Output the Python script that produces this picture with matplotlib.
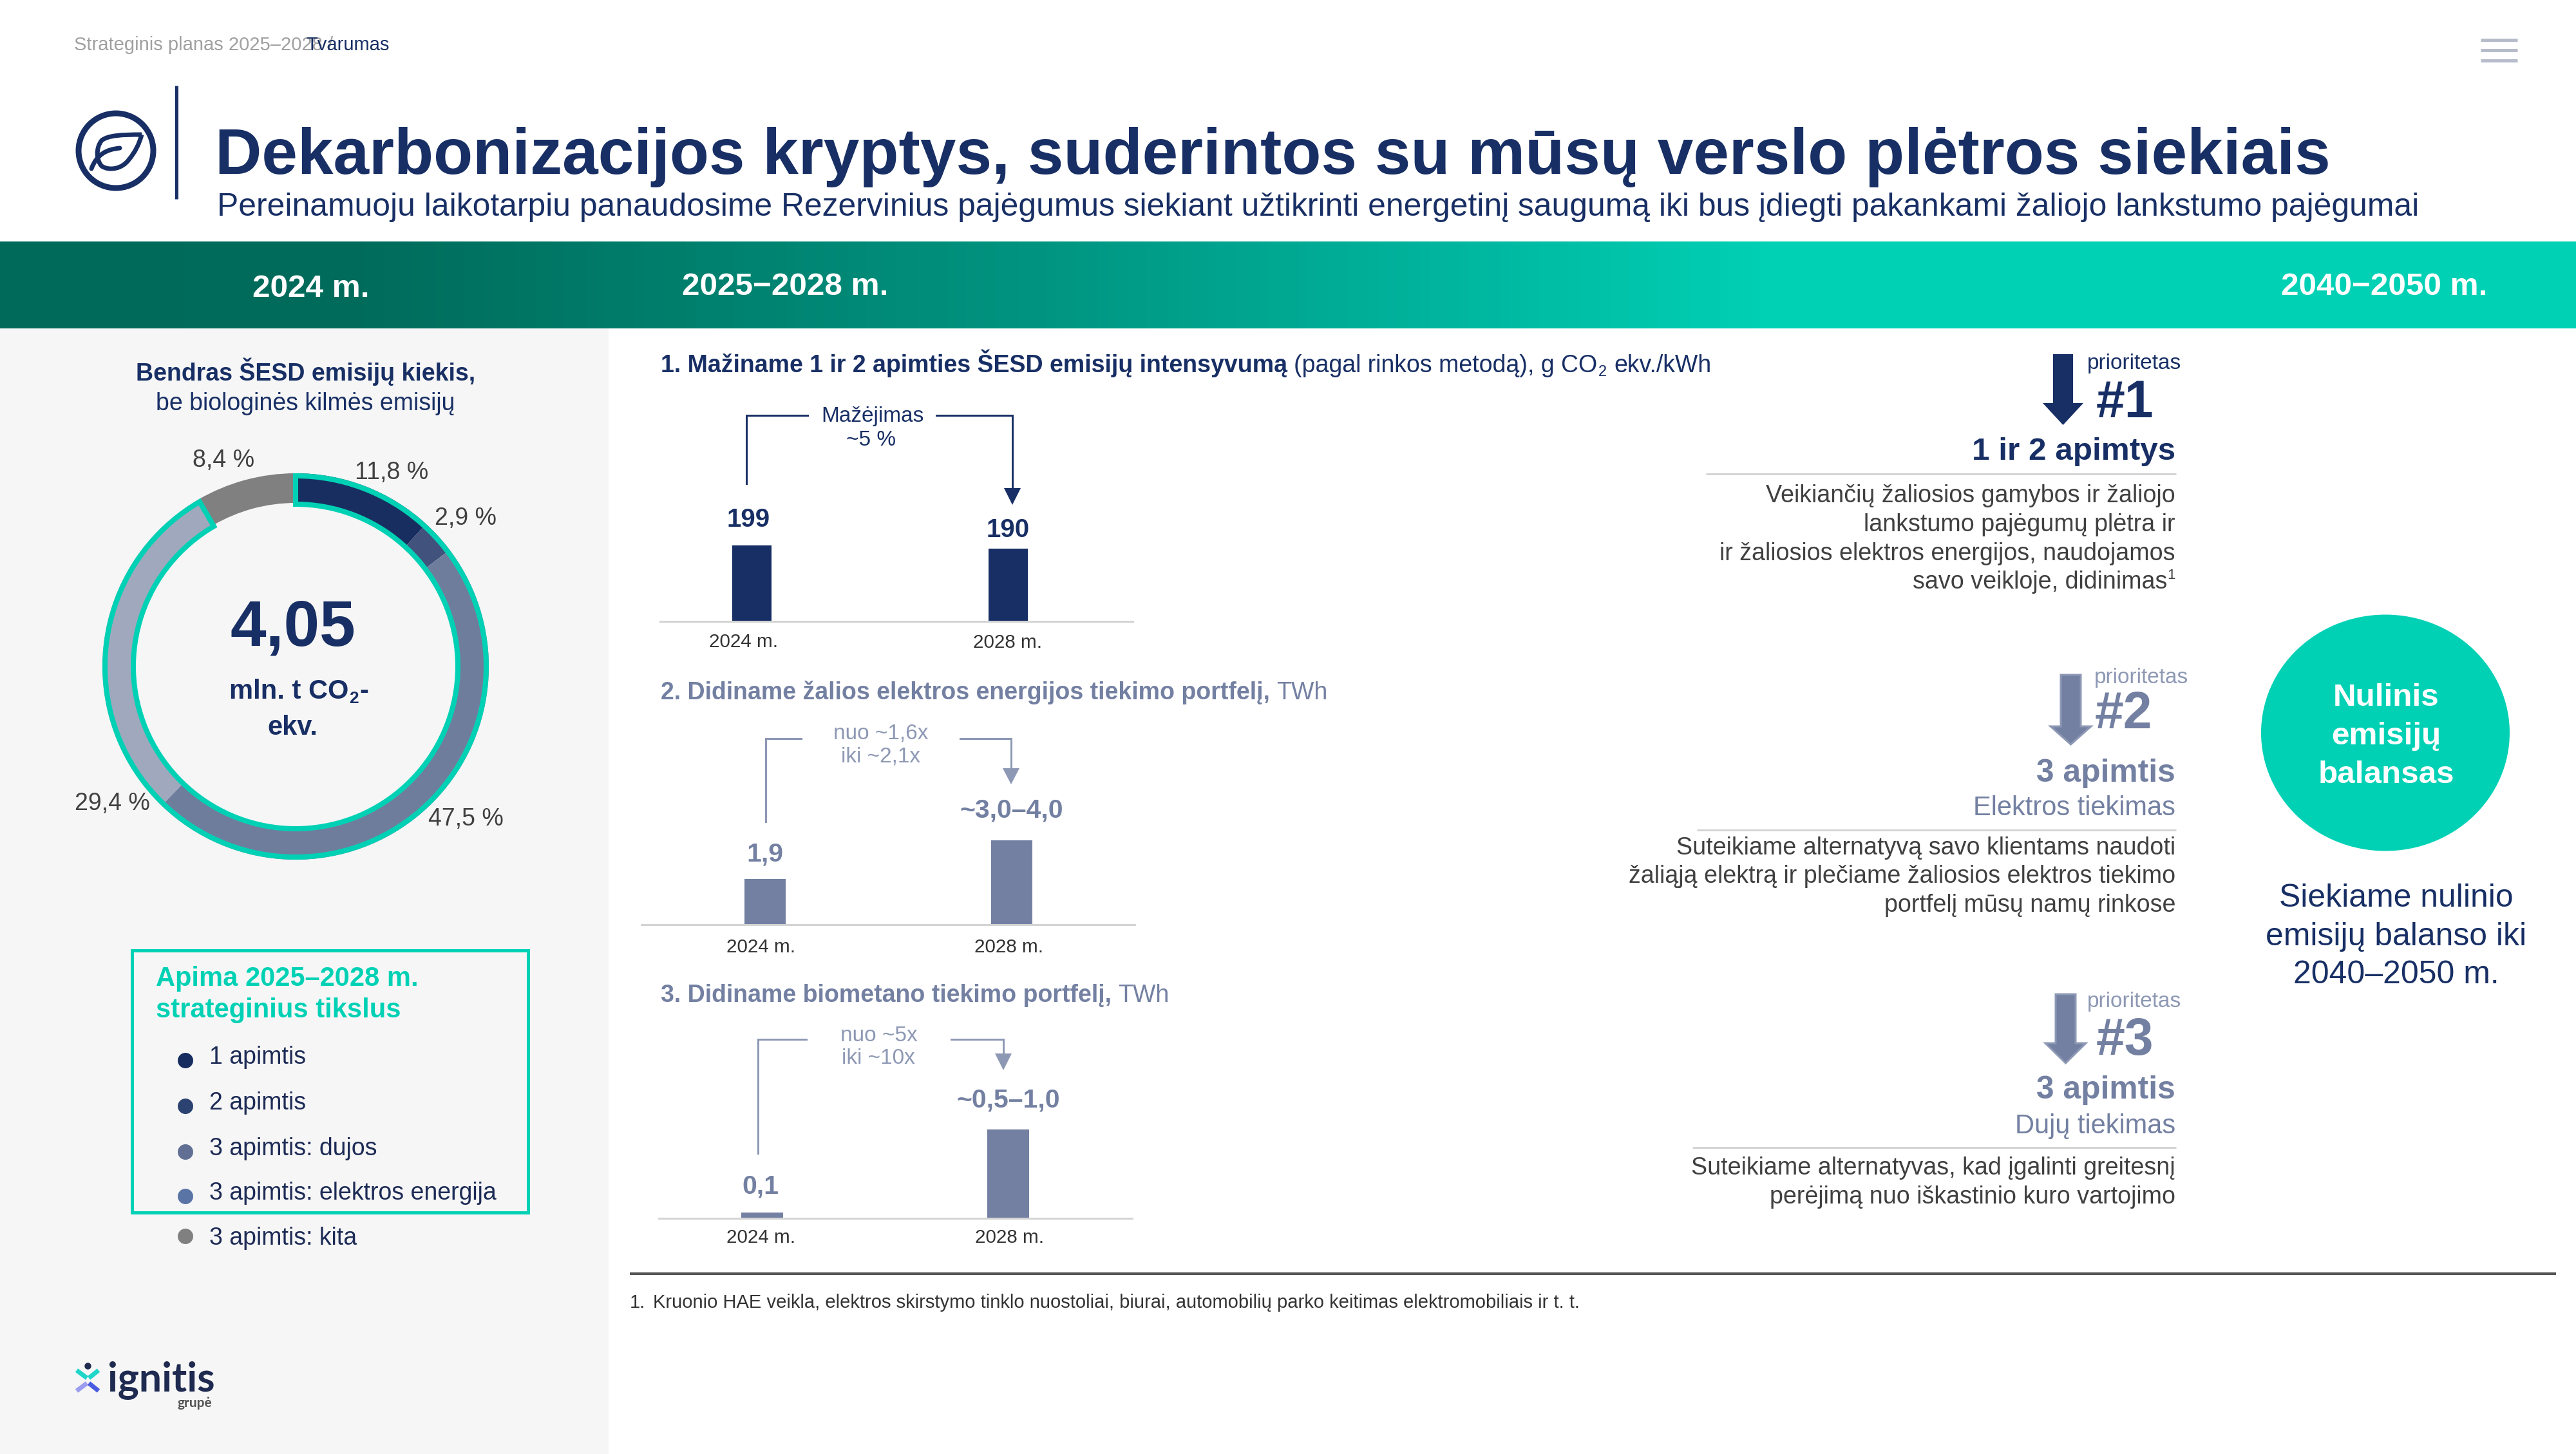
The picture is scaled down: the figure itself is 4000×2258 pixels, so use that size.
##### Imports #####
import matplotlib
matplotlib.use('Agg')
import matplotlib.pyplot as plt
import numpy as np
from matplotlib.colors import LinearSegmentedColormap
from matplotlib.patches import Circle, Ellipse, PathPatch, Polygon, Rectangle, Wedge
from matplotlib.path import Path

plt.rcParams['font.family'] = ['Liberation Sans', 'DejaVu Sans']

###### DATA ######
# donut, clockwise from 12 o'clock
donut_values = [11.8, 2.9, 47.5, 29.4, 8.4]
donut_labels = ['11,8 %', '2,9 %', '47,5 %', '29,4 %', '8,4 %']
donut_colors = ['#182e60', '#41527c', '#6f7d9d', '#a0a8bd', '#808080']
donut_total = '4,05'

legend_labels = ['1 apimtis', '2 apimtis', '3 apimtis: dujos',
                 '3 apimtis: elektros energija', '3 apimtis: kita']
legend_colors = ['#182d5f', '#2c4271', '#626f95', '#5b74a6', '#808080']

# bar charts
years = ['2024 m.', '2028 m.']
intensity_values = [199, 190]
intensity_labels = ['199', '190']
power_values = [1.9, 3.5]     # 2028 bar is the middle of the 3,0-4,0 range
power_labels = ['1,9', '~3,0–4,0']
biomethane_values = [0.05, 0.75]   # the first is lower than its 0,1 label
biomethane_labels = ['0,1', '~0,5–1,0']

band_labels = ['2024 m.', '2025−2028 m.', '2040−2050 m.']

NAVY = '#182f65'
SLATE = '#7380a2'
SLATE_LIGHT = '#8d98b4'
TEAL = '#00d1b5'
DARK_TEXT = '#404040'
RULE = '#d4d4d4'

W, H = 4000, 2258

###### FIGURE ######
fig = plt.figure(figsize=(W / 100, H / 100), dpi=100, facecolor='white')
bg = fig.add_axes([0, 0, 1, 1], zorder=0)


def px(n):
    # pixels to points, linewidths and font sizes are given in points
    return n * 0.72


def txt(x, y, s, size, color=NAVY, weight='normal', ha='left', **kw):
    return bg.text(x, y, s, fontsize=size, color=color, fontweight=weight, ha=ha, va='baseline', **kw)


def runs(x, y, parts):
    # draw text pieces one after another, part = (text, size, weight, color, dy, gap after)
    renderer = fig.canvas.get_renderer()
    for s, size, weight, color, dy, gap in parts:
        t = txt(x, y + dy, s, size, color, weight)
        x += t.get_window_extent(renderer).width + gap
    return x


def hline(x0, x1, y, color, lw):
    bg.plot([x0, x1], [y, y], color=color, lw=px(lw), solid_capstyle='butt')


def sub_axes(x0, x1, y_top, y_bottom, zorder=2):
    ax = fig.add_axes([x0 / W, 1 - y_bottom / H, (x1 - x0) / W, (y_bottom - y_top) / H], zorder=zorder)
    ax.patch.set_alpha(0)
    return ax


# background blocks
band = LinearSegmentedColormap.from_list('band', [(0, '#006a5a'), (0.14, '#006c5c'), (0.40, '#009480'),
                                                  (0.60, '#00bda5'), (0.69, TEAL), (1, TEAL)])
bg.imshow(np.linspace(0, 1, 800).reshape(1, -1), cmap=band, aspect='auto', extent=(0, W, 510, 375), zorder=0)
bg.add_patch(Rectangle((0, 510), 945, H - 510, color='#f6f6f6', lw=0, zorder=0))

# top strip
txt(115, 78, 'Strateginis planas 2025–2028 /', 21, '#a0a0a0')
txt(475, 78, 'Tvarumas', 21, NAVY)
for y in [62, 78, 94]:
    hline(3852, 3909, y, '#b7bccb', 5)

# leaf icon
bg.add_patch(Ellipse((180, 234), 116, 116, fc='none', ec=NAVY, lw=px(9)))
leaf = Path([(220, 209), (190, 209), (168, 210), (158, 218), (148, 230), (150, 250), (158, 258),
             (170, 266), (190, 262), (200, 248), (210, 236), (216, 224), (220, 209)],
            [Path.MOVETO] + [Path.CURVE4] * 12)
bg.add_patch(PathPatch(leaf, fc='none', ec=NAVY, lw=px(7)))
stem = Path([(142, 262), (150, 240), (165, 232), (186, 230)], [Path.MOVETO] + [Path.CURVE4] * 3)
bg.add_patch(PathPatch(stem, fc='none', ec=NAVY, lw=px(7), capstyle='round'))
bg.plot([274, 274], [133, 309], color=NAVY, lw=px(5), solid_capstyle='butt')

# title
txt(334, 270, 'Dekarbonizacijos kryptys, suderintos su mūsų verslo plėtros siekiais', 72, NAVY, 'bold')
txt(337, 335, 'Pereinamuoju laikotarpiu panaudosime Rezervinius pajėgumus siekiant užtikrinti energetinį saugumą '
    'iki bus įdiegti pakankami žaliojo lankstumo pajėgumai', 35.8, NAVY)

# band labels
txt(483, 461, band_labels[0], 35.6, 'white', 'bold', ha='center')
txt(1059, 458, band_labels[1], 35.6, 'white', 'bold')
txt(3862, 458, band_labels[2], 35.6, 'white', 'bold', ha='right')

###### DONUT ######
txt(475, 591, 'Bendras ŠESD emisijų kiekis,', 27, NAVY, 'bold', ha='center')
txt(474, 637, 'be biologinės kilmės emisijų', 27, NAVY, ha='center')

cx, cy, r_out, r_in = 459, 1035, 300, 254
ax_d = sub_axes(cx - r_out, cx + r_out, cy - r_out, cy + r_out)
ax_d.pie(donut_values, colors=donut_colors, startangle=90, counterclock=False, radius=1,
         wedgeprops={'width': (r_out - r_in) / r_out, 'linewidth': 0})
ax_d.set_xlim(-1, 1)
ax_d.set_ylim(-1, 1)
# teal outline round everything except "kita"
covered = sum(donut_values[:-1]) / sum(donut_values) * 360
stroke = 8
ax_d.add_patch(Wedge((0, 0), 296 / r_out, 90 - covered, 90,
                     width=44 / r_out, fc='none', ec=TEAL, lw=px(stroke), joinstyle='miter', clip_on=False))

label_xy = [(608, 744), (723, 815), (723, 1282), (174, 1258), (347, 725)]
for (x, y), s in zip(label_xy, donut_labels):
    txt(x, y, s, 27, DARK_TEXT, ha='center')

txt(455, 1002, donut_total, 72, NAVY, 'bold', ha='center')
runs(356, 1085, [('mln. t CO', 30, 'bold', NAVY, 0, 1), ('2', 19, 'bold', NAVY, 7, 1), ('-', 30, 'bold', NAVY, 0, 0)])
txt(454, 1141, 'ekv.', 30, NAVY, 'bold', ha='center')

###### LEGEND ######
bg.add_patch(Rectangle((205, 1476), 615, 407, fc='none', ec=TEAL, lw=px(5)))
txt(242, 1531, 'Apima 2025–2028 m.', 30, TEAL, 'bold')
txt(242, 1580, 'strateginius tikslus', 30, TEAL, 'bold')
legend_y = [1647, 1718, 1789, 1858, 1920]
for y, s, c in zip(legend_y, legend_labels, legend_colors):
    bg.add_patch(Circle((288, y), 12, color=c, lw=0))
    txt(325, y + 5 + (8 if y == 1920 else 0), s, 27, '#1d2b56')

# company logo
bg.plot([136], [2121], 'o', ms=px(9), color='#1f2a50')
for p0, p1, c in [((119, 2128), (135, 2140), '#1fd6c9'), ((153, 2128), (138, 2140), '#1fd6c9'),
                  ((135, 2148), (119, 2160), '#9c9cf0'), ((138, 2148), (153, 2160), '#4a5de0')]:
    bg.plot([p0[0], p1[0]], [p0[1], p1[1]], color=c, lw=px(7), solid_capstyle='butt')
bg.text(167, 2160, 'ignitis', fontsize=45, color='#1f2a50', fontweight='bold', family='Lato',
        ha='left', va='baseline')
bg.text(329, 2185, 'grupė', fontsize=15, color='#555555', fontweight='bold', family='Lato',
        ha='right', va='baseline')


###### BAR CHARTS ######
def bar_chart(values, color, x0, x1, centers, bar_w, y_axis, y_top):
    ax = sub_axes(x0, x1, y_top, y_axis)
    ax.bar(centers, values, width=bar_w, color=color, lw=0)
    ax.set_xlim(x0, x1)
    ax.set_ylim(0, max(values))
    ax.set_xticks([])
    ax.set_yticks([])
    for side in ['top', 'left', 'right']:
        ax.spines[side].set_visible(False)
    ax.spines['bottom'].set_color(RULE)
    ax.spines['bottom'].set_linewidth(px(3))
    return ax


def bracket(x_left, y_low, y_top, x_gap0, x_gap1, x_right, y_head, y_tip, color):
    lw = px(3)
    bg.plot([x_left, x_left, x_gap0], [y_low, y_top, y_top], color=color, lw=lw, solid_joinstyle='miter')
    bg.plot([x_gap1, x_right, x_right], [y_top, y_top, y_head], color=color, lw=lw, solid_joinstyle='miter')
    bg.add_patch(Polygon([(x_right - 13, y_head), (x_right + 13, y_head), (x_right, y_tip)], color=color, lw=0))


# 1. intensity
runs(1026, 578, [('1. Mažiname 1 ir 2 apimties ŠESD emisijų intensyvumą', 27, 'bold', NAVY, 0, 10),
                 ('(pagal rinkos metodą), g CO', 27, 'normal', NAVY, 0, 2),
                 ('2', 17, 'normal', NAVY, 6, 11),
                 ('ekv./kWh', 27, 'normal', NAVY, 0, 0)])
bar_chart(intensity_values, NAVY, 1025, 1759, [1167.5, 1565.5], 61, 965, 847)
bracket(1159, 751, 645, 1254, 1454, 1572, 758, 784, NAVY)
txt(1355, 655, 'Mažėjimas', 24, NAVY, ha='center')
txt(1353, 692, '~5 %', 24, NAVY, ha='center')
txt(1162, 818, intensity_labels[0], 29, NAVY, 'bold', ha='center')
txt(1565, 834, intensity_labels[1], 29, NAVY, 'bold', ha='center')
txt(1155, 1005, years[0], 21.3, '#333333', ha='center')
txt(1565, 1006, years[1], 21.3, '#333333', ha='center')

# 2. green power
runs(1026, 1086, [('2. Didiname žalios elektros energijos tiekimo portfelį,', 27, 'bold', SLATE, 0, 10),
                  ('TWh', 27, 'normal', SLATE, 0, 0)])
bar_chart(power_values, SLATE, 996, 1762, [1188, 1570.5], 64, 1436, 1305)
bracket(1189, 1276, 1147, 1244, 1491, 1570, 1193, 1218, SLATE_LIGHT)
txt(1368, 1147, 'nuo ~1,6x', 24, SLATE_LIGHT, ha='center')
txt(1368, 1184, 'iki ~2,1x', 24, SLATE_LIGHT, ha='center')
txt(1188, 1338, power_labels[0], 29.5, SLATE, 'bold', ha='center')
txt(1571, 1270, power_labels[1], 29.5, SLATE, 'bold', ha='center')
txt(1182, 1479, years[0], 21.3, '#333333', ha='center')
txt(1567, 1479, years[1], 21.3, '#333333', ha='center')

# 3. biomethane
runs(1026, 1556, [('3. Didiname biometano tiekimo portfelį,', 27, 'bold', SLATE, 0, 10),
                  ('TWh', 27, 'normal', SLATE, 0, 0)])
bar_chart(biomethane_values, SLATE, 1023, 1758, [1183.5, 1565.5], 65, 1892, 1754)
bracket(1177, 1791, 1614, 1252, 1477, 1558, 1636, 1662, SLATE_LIGHT)
txt(1365, 1617, 'nuo ~5x', 24, SLATE_LIGHT, ha='center')
txt(1364, 1652, 'iki ~10x', 24, SLATE_LIGHT, ha='center')
txt(1181, 1854, biomethane_labels[0], 29.5, SLATE, 'bold', ha='center')
txt(1566, 1720, biomethane_labels[1], 29.5, SLATE, 'bold', ha='center')
txt(1182, 1930, years[0], 21.3, '#333333', ha='center')
txt(1568, 1930, years[1], 21.3, '#333333', ha='center')

# footnote
hline(978, 3969, 1978, '#555555', 4)
txt(978, 2031, '1.', 21, '#333333')
txt(1014, 2031, 'Kruonio HAE veikla, elektros skirstymo tinklo nuostoliai, biurai, automobilių parko '
    'keitimas elektromobiliais ir t. t.', 21, '#333333')


###### PRIORITIES ######
def priority(shaft_x, y_top, y_head, y_tip, label_x, label_y, number, num_x, num_y, color, label_color):
    shaft = [(shaft_x, y_top), (shaft_x + 31, y_top), (shaft_x + 31, y_head), (shaft_x + 47, y_head),
             (shaft_x + 15.5, y_tip), (shaft_x - 16, y_head), (shaft_x, y_head)]
    if color == SLATE:
        bg.add_patch(Polygon(shaft, fc=color, ec=SLATE_LIGHT, lw=px(3), joinstyle='miter'))
    else:
        bg.add_patch(Polygon(shaft, fc=color, lw=0))
    txt(label_x, label_y, 'prioritetas', 24, label_color)
    txt(num_x, num_y, number, 58, color, 'bold')


RIGHT = 3378
priority(3188, 550, 626, 660, 3241, 573, '#1', 3255, 648, NAVY, NAVY)
txt(RIGHT, 714, '1 ir 2 apimtys', 35.6, NAVY, 'bold', ha='right')
hline(2649, 3379, 736, RULE, 3)
for y, s in zip([780, 825, 870], ['Veikiančių žaliosios gamybos ir žaliojo', 'lankstumo pajėgumų plėtra ir',
                                  'ir žaliosios elektros energijos, naudojamos']):
    txt(RIGHT, y, s, 27.1, DARK_TEXT, ha='right')
txt(3365, 914, 'savo veikloje, didinimas', 27.1, DARK_TEXT, ha='right')
txt(RIGHT, 899, '1', 16, DARK_TEXT, ha='right')

priority(3200, 1048, 1128, 1156, 3252, 1061, '#2', 3253, 1131, SLATE, SLATE_LIGHT)
txt(RIGHT, 1214, '3 apimtis', 35.8, SLATE, 'bold', ha='right')
txt(RIGHT, 1266, 'Elektros tiekimas', 30, SLATE, ha='right')
hline(2635, 3379, 1289, RULE, 3)
for y, s in zip([1327, 1371, 1416], ['Suteikiame alternatyvą savo klientams naudoti',
                                     'žaliąją elektrą ir plečiame žaliosios elektros tiekimo',
                                     'portfelį mūsų namų rinkose']):
    txt(RIGHT, y, s, 27.1, DARK_TEXT, ha='right')

priority(3192, 1544, 1620, 1651, 3241, 1564, '#3', 3255, 1638, SLATE, SLATE_LIGHT)
txt(RIGHT, 1706, '3 apimtis', 35.8, SLATE, 'bold', ha='right')
txt(RIGHT, 1760, 'Dujų tiekimas', 30, SLATE, ha='right')
hline(2628, 3379, 1782, RULE, 3)
for y, s in zip([1824, 1869], ['Suteikiame alternatyvas, kad įgalinti greitesnį',
                               'perėjimą nuo iškastinio kuro vartojimo']):
    txt(RIGHT, y, s, 27.1, DARK_TEXT, ha='right')

# net zero circle
bg.add_patch(Ellipse((3704, 1138), 386, 367, color=TEAL, lw=0))
for y, s in zip([1096, 1156, 1216], ['Nulinis', 'emisijų', 'balansas']):
    txt(3705, y, s, 35.6, 'white', 'bold', ha='center')
for y, s in zip([1408, 1468, 1527], ['Siekiame nulinio', 'emisijų balanso iki', '2040–2050 m.']):
    txt(3721, y, s, 35.9, NAVY, ha='center')

# page coordinates on the background axes, y going down
bg.set_xlim(0, W)
bg.set_ylim(H, 0)
bg.axis('off')

fig.savefig('out.png', dpi=100, facecolor='white')
